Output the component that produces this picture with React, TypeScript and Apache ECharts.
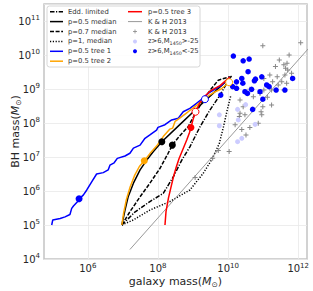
import React, { useEffect, useRef } from 'react';
import * as echarts from 'echarts';

const FONT = 'DejaVu Sans';
const TXT = '#262626';

// All values are log10 of mass in solar masses: [log10 M_gal, log10 M_BH]
const eddLimited = [[6.97,5.0],[7.34,5.38],[7.77,5.69],[8.15,5.93],[8.44,6.42],[8.68,6.91],[8.91,7.3],[9.2,7.89],[9.48,8.38],[9.77,8.82],[10.05,9.33]];
const p05Median = [[6.97,5.0],[7.06,5.44],[7.15,5.83],[7.3,6.23],[7.49,6.62],[7.68,6.91],[7.87,7.16],[8.11,7.45],[8.6,7.93],[9.1,8.42],[9.6,8.9],[10.1,9.38]];
const p07Median = [[6.97,5.0],[7.2,5.39],[7.49,5.83],[7.77,6.23],[8.06,6.67],[8.29,7.11],[8.41,7.35],[8.6,7.6],[8.86,7.89],[9.05,8.25],[9.29,8.68],[9.5,8.98],[9.72,9.26],[10.05,9.36]];
const p1Median = [[6.97,5.0],[7.3,5.15],[7.77,5.44],[8.34,5.69],[8.91,6.03],[9.29,6.52],[9.55,6.95],[9.75,7.4],[9.87,7.9],[9.98,8.4],[10.08,8.82]];
const tree1 = [[4.97,5.0],[5.0,5.15],[5.21,5.19],[5.35,5.24],[5.49,5.31],[5.54,5.49],[5.59,5.56],[5.71,5.69],[5.75,5.77],[5.87,5.88],[5.97,6.03],[6.11,6.27],[6.25,6.5],[6.44,6.54],[6.58,6.62],[6.63,6.76],[6.75,6.83],[6.84,6.96],[7.06,7.03],[7.2,7.11],[7.3,7.26],[7.49,7.35],[7.63,7.55],[7.77,7.65],[7.96,7.79],[8.0,7.87],[8.2,7.95],[8.39,8.09],[8.58,8.14],[8.72,8.33],[8.91,8.43],[9.1,8.58],[9.29,8.73],[9.43,8.87],[9.58,8.97],[9.8,9.1],[10.05,9.35]];
const tree2 = [[6.97,5.0],[7.02,5.35],[7.1,5.75],[7.2,6.1],[7.33,6.45],[7.47,6.72],[7.61,6.89],[7.77,7.1],[7.96,7.32],[8.15,7.6],[8.34,7.82],[8.42,7.85],[8.49,8.05],[8.63,8.15],[8.86,8.33],[9.1,8.52],[9.39,8.77],[9.6,8.9],[9.8,9.0],[10.03,9.2]];
const tree3 = [[8.2,5.0],[8.23,5.4],[8.3,5.8],[8.38,6.15],[8.45,6.45],[8.52,6.7],[8.6,6.95],[8.7,7.2],[8.82,7.5],[8.9,7.72],[8.94,7.87],[9.0,8.1],[9.07,8.33],[9.2,8.6],[9.35,8.8],[9.5,8.95],[9.77,9.1],[10.05,9.35]];
const khRelation = [[7.2,4.28],[12.3,10.2]];
const khPoints = [[10.99,10.27],[12.07,10.36],[11.74,10.0],[11.46,9.85],[11.68,9.76],[11.59,9.71],[11.35,9.66],[11.64,9.61],[11.7,9.56],[11.81,9.46],[11.62,9.41],[11.4,9.36],[11.19,9.41],[11.02,9.31],[11.27,9.21],[11.53,9.21],[11.67,9.17],[11.43,9.12],[11.15,9.07],[11.02,8.97],[11.24,8.97],[11.59,8.97],[10.91,8.87],[11.12,8.76],[10.72,8.77],[10.99,8.48],[10.94,8.33],[10.96,8.24],[11.24,8.53],[10.86,7.99],[10.62,7.87],[10.51,7.65],[10.39,7.81],[10.34,8.29],[10.48,8.24],[10.32,8.19],[10.03,7.16],[9.72,7.19],[9.56,6.96],[9.06,6.4],[10.62,8.99],[10.53,8.87],[10.34,8.68],[10.43,8.48],[10.2,7.95]];
const faintQuasars = [[9.75,8.24],[9.75,7.92],[10.27,8.4],[10.5,8.54],[10.29,8.09],[10.39,7.55],[10.27,7.45],[10.77,7.96],[10.62,8.95],[11.12,9.08]];
const brightQuasars = [[10.15,9.97],[10.43,9.83],[10.6,9.88],[10.57,9.51],[10.39,9.31],[10.24,9.21],[10.42,9.17],[10.75,9.24],[10.78,9.29],[10.96,9.36],[11.1,9.12],[10.24,9.02],[10.48,8.92],[10.67,8.99],[10.91,8.92],[11.37,8.97],[11.62,8.97],[11.17,9.07],[11.84,9.31],[10.99,8.7],[10.7,8.4],[9.79,8.82],[10.13,9.07],[10.55,8.87]];
// highlighted epochs on the tracks
const blackDots = [[8.11,7.45],[8.41,7.35]];
const blueDot = [[5.75,5.77]];
const orangeDot = [[7.61,6.89]];
const redDot = [[8.94,7.87]];
const blueOpen = [[9.34,8.7]];
const redOpen = [[9.07,8.33]];
const orangeOpen = [[10.03,9.2]];

const xTickExps = [6, 8, 10, 12];
const yTickExps = [4, 5, 6, 7, 8, 9, 10, 11];

const leftLegend = ['Edd. limited', 'p=0.5 median', 'p=0.7 median', 'p=1, median', 'p=0.5 tree 1', 'p=0.5 tree 2'];
const rightLegend = ['p=0.5 tree 3', 'K & H 2013', 'K & H 2013', 'z>6,M{sub|1450}>-25', 'z>6,M{sub|1450}<-25'];

const DASH = [4, 1.6];
const DASHDOT = [4.5, 1.5, 1.2, 1.5];
const DOT = [1.2, 1.6];
const PLUS = 'path://M-0.2,-1H0.2V-0.2H1V0.2H0.2V1H-0.2V0.2H-1V-0.2H-0.2Z';

function line(name: string, data: number[][], color: string, type: any, z: number, width = 1.5) {
  return { type: 'line', name, data, symbol: 'none', silent: true, z, lineStyle: { color, width, type }, itemStyle: { color } };
}
function dots(name: string, data: number[][], fill: string, stroke: string, size: number, z: number, symbol = 'circle', bw = 0) {
  return { type: 'scatter', name, data, symbol, symbolSize: size, silent: true, z, itemStyle: { color: fill, borderColor: stroke, borderWidth: bw, opacity: 1 } };
}

function buildLegend() {
  const els: any[] = [];
  els.push({ type: 'rect', z: 100, shape: { x: 47, y: 6, width: 153, height: 61, r: 2.5 }, style: { fill: 'rgba(255,255,255,0.85)', stroke: '#d6d6d6', lineWidth: 1 } });
  const rowY = (i: number) => 11.7 + i * 9.9;
  const lStyles: any[] = [
    { stroke: '#000', lineDash: DASHDOT },
    { stroke: '#000' },
    { stroke: '#000', lineDash: DASH },
    { stroke: '#000', lineDash: DOT },
    { stroke: '#0000ff' },
    { stroke: '#ffa500' },
  ];
  leftLegend.forEach((t, i) => {
    const y = rowY(i);
    els.push({ type: 'line', z: 101, shape: { x1: 50, y1: y, x2: 63, y2: y }, style: { lineWidth: 1.5, ...lStyles[i] } });
    els.push({ type: 'text', z: 101, x: 68, y, style: { text: t, fontFamily: FONT, fontSize: 6.8, fill: '#333', verticalAlign: 'middle' } });
  });
  rightLegend.forEach((t, i) => {
    const y = rowY(i);
    if (i === 0) els.push({ type: 'line', z: 101, shape: { x1: 128, y1: y, x2: 142, y2: y }, style: { lineWidth: 1.5, stroke: '#ff0000' } });
    if (i === 1) els.push({ type: 'line', z: 101, shape: { x1: 128, y1: y, x2: 142, y2: y }, style: { lineWidth: 1, stroke: '#999' } });
    if (i === 2) {
      els.push({ type: 'line', z: 101, shape: { x1: 133, y1: y, x2: 137, y2: y }, style: { lineWidth: 0.8, stroke: '#888' } });
      els.push({ type: 'line', z: 101, shape: { x1: 135, y1: y - 2, x2: 135, y2: y + 2 }, style: { lineWidth: 0.8, stroke: '#888' } });
    }
    if (i === 3) els.push({ type: 'circle', z: 101, shape: { cx: 135, cy: y, r: 2 }, style: { fill: '#ccccff' } });
    if (i === 4) els.push({ type: 'circle', z: 101, shape: { cx: 135, cy: y, r: 2 }, style: { fill: '#0000ff' } });
    els.push({ type: 'text', z: 101, x: 148, y, style: { text: t, fontFamily: FONT, fontSize: 6.8, fill: '#333', verticalAlign: 'middle', lineHeight: 9, rich: { sub: { fontFamily: FONT, fontSize: 4.8, fill: '#333', lineHeight: 5, verticalAlign: 'bottom' } } } });
  });
  return els;
}

export default function App() {
  const ref = useRef<HTMLDivElement>(null);
  useEffect(() => {
    document.body.style.margin = '0';
    const chart = echarts.init(ref.current!, null, { renderer: 'svg' });
    const supRichY = {
      b: { fontFamily: FONT, fontSize: 10, color: TXT, lineHeight: 14 },
      s: { fontFamily: FONT, fontSize: 7, color: TXT, lineHeight: 8, verticalAlign: 'top' },
    };
    const supRichX = {
      b: { fontFamily: FONT, fontSize: 10, color: TXT, lineHeight: 12 },
      s: { fontFamily: FONT, fontSize: 7, color: TXT, lineHeight: 6, verticalAlign: 'top' },
    };
    const titleRich = {
      t: { fontFamily: FONT, fontSize: 11, color: TXT, lineHeight: 14 },
      i: { fontFamily: FONT, fontSize: 11, color: TXT, fontStyle: 'italic', lineHeight: 14 },
      o: { fontFamily: FONT, fontSize: 7.5, color: TXT, lineHeight: 9, verticalAlign: 'bottom' },
    };
    const option: any = {
      animation: false,
      backgroundColor: '#fff',
      grid: { left: 44, top: 4, width: 263, height: 255, show: true, borderColor: '#c4c4c4', borderWidth: 1.5, backgroundColor: 'transparent', containLabel: false, outerBoundsMode: 'none' },
      xAxis: {
        type: 'value', min: 4.75, max: 12.25, interval: 0.25,
        name: '{t|galaxy mass(}{i|M}{o|⊙}{t|)}', nameLocation: 'middle', nameGap: 15, nameMoveOverlap: false,
        nameTextStyle: { rich: titleRich },
        axisLine: { show: false }, axisTick: { show: false }, splitLine: { show: false },
        axisLabel: {
          margin: 3, rich: supRichX,
          formatter: (v: number) => {
            const r = Math.round(v);
            return Math.abs(v - r) < 1e-6 && xTickExps.includes(r) ? `{b|10}{s|${r}}` : '';
          },
        },
      },
      yAxis: {
        type: 'value', min: 4, max: 11.5, interval: 1,
        name: '{t|BH mass(}{i|M}{o|⊙}{t|)}', nameLocation: 'middle', nameGap: 22, nameRotate: 90, nameMoveOverlap: false,
        nameTextStyle: { rich: titleRich },
        axisLine: { show: false }, axisTick: { show: false },
        splitLine: { show: true, lineStyle: { color: '#e8e8e8', width: 0.8 } },
        axisLabel: {
          margin: 4, rich: supRichY,
          formatter: (v: number) => {
            const r = Math.round(v);
            return Math.abs(v - r) < 1e-6 && yTickExps.includes(r) ? `{b|10}{s|${r}}` : '';
          },
        },
      },
      graphic: buildLegend(),
      series: [
        {
          type: 'line', name: 'grid', data: [], symbol: 'none', silent: true, z: 1,
          markLine: {
            silent: true, z: 1, symbol: ['none', 'none'], label: { show: false },
            lineStyle: { color: '#e8e8e8', width: 0.8, type: 'solid' },
            data: xTickExps.map((v) => ({ xAxis: v })),
          },
        },
        line('Edd. limited', eddLimited, '#000', DASHDOT, 2),
        line('p=0.5 median', p05Median, '#000', 'solid', 2),
        line('p=0.7 median', p07Median, '#000', DASH, 2),
        line('p=1, median', p1Median, '#000', DOT, 2),
        line('p=0.5 tree 1', tree1, '#0000ff', 'solid', 3),
        line('p=0.5 tree 2', tree2, '#ffa500', 'solid', 3),
        line('p=0.5 tree 3', tree3, '#ff0000', 'solid', 3),
        line('K & H 2013', khRelation, '#999', 'solid', 2, 1),
        dots('K & H 2013 data', khPoints, '#888', '#888', 5, 4, PLUS),
        dots('z>6 faint', faintQuasars, '#ccccff', '#ccccff', 5, 4),
        dots('z>6 bright', brightQuasars, '#0000ff', '#0000ff', 5.5, 5),
        dots('median epochs', blackDots, '#000', '#000', 7, 6),
        dots('tree 1 epoch', blueDot, '#0000ff', '#0000ff', 7, 6),
        dots('tree 2 epoch', orangeDot, '#ffa500', '#ffa500', 7, 6),
        dots('tree 3 epoch', redDot, '#ff0000', '#ff0000', 7, 6),
        dots('tree 1 end', blueOpen, '#fff', '#0000ff', 7, 6, 'circle', 1),
        dots('tree 3 end', redOpen, '#fff', '#ff0000', 7, 6, 'circle', 1),
        dots('tree 2 end', orangeOpen, '#fff', '#ffa500', 7, 6, 'circle', 1),
      ],
    };
    chart.setOption(option);
    return () => chart.dispose();
  }, []);
  return <div ref={ref} style={{ width: 313, height: 291 }} />;
}
